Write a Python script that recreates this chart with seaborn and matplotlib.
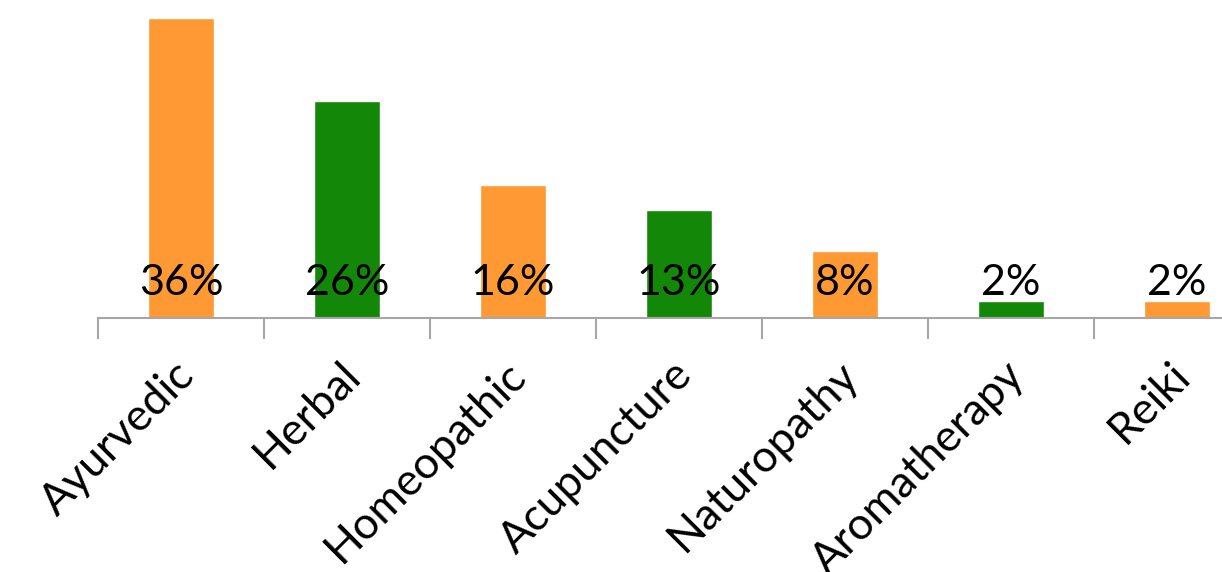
import matplotlib
matplotlib.use("Agg")

import matplotlib.pyplot as plt
import matplotlib.transforms as mtransforms
import numpy as np
import seaborn as sns

# ── Data ──
therapies = ["Ayurvedic", "Herbal", "Homeopathic", "Acupuncture",
             "Naturopathy", "Aromatherapy", "Reiki"]
shares = [36, 26, 16, 13, 8, 2, 2]
bar_colors = ["#FF9933", "#138808", "#FF9933", "#138808",
              "#FF9933", "#138808", "#FF9933"]

sns.set_theme(style="white")
plt.rcParams["font.family"] = ["Lato", "DejaVu Sans"]

fig = plt.figure(figsize=(12.22, 5.72), dpi=100)
# axes run past the right edge, like the cropped original
ax = fig.add_axes([98 / 1222, 254 / 572, 1162 / 1222, 300 / 572])

sns.barplot(x=therapies, y=shares, hue=therapies, palette=bar_colors,
            width=0.4, saturation=1, legend=False, ax=ax)

ax.set_xlim(-0.5, len(therapies) - 0.5)
ax.set_ylim(0, 36)

# value labels sit at a fixed height near the base
for i, v in enumerate(shares):
    ax.text(i, 2.8, f"{v}%", ha="center", va="baseline", fontsize=31, color="black")

for side in ["top", "right", "left"]:
    ax.spines[side].set_visible(False)
ax.spines["bottom"].set_color("#a6a6a6")
ax.spines["bottom"].set_linewidth(1.5)
ax.set_yticks([])
ax.set_ylabel("")
ax.set_xlabel("")

ax.set_xticks(np.arange(len(therapies)))
ax.set_xticklabels(therapies, rotation=45, ha="right", rotation_mode="anchor",
                   fontsize=32, color="black")
ax.tick_params(axis="x", which="major", length=0, pad=26)
shift = mtransforms.ScaledTranslation(-8 / 100, 0, fig.dpi_scale_trans)
for lbl in ax.get_xticklabels():
    lbl.set_transform(lbl.get_transform() + shift)

ax.set_xticks(np.arange(len(therapies) + 1) - 0.5, minor=True)
ax.tick_params(axis="x", which="minor", bottom=True, length=15, width=1.5,
               color="#a6a6a6", direction="out")

fig.savefig("out.png", dpi=100)
